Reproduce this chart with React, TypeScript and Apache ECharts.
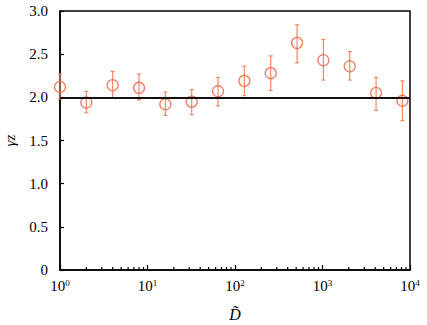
import React, { useEffect, useRef } from "react";
import * as echarts from "echarts";

const xValues = [1, 2, 4, 8, 16, 32, 64, 128, 256, 512, 1024, 2048, 4096, 8192];
const yValues = [2.12, 1.94, 2.14, 2.11, 1.92, 1.95, 2.07, 2.19, 2.28, 2.63, 2.43, 2.36, 2.05, 1.96];
const yUpper = [2.27, 2.07, 2.30, 2.27, 2.06, 2.09, 2.23, 2.36, 2.48, 2.84, 2.67, 2.53, 2.23, 2.19];
const yLower = [1.98, 1.82, 1.99, 1.97, 1.79, 1.80, 1.90, 2.02, 2.08, 2.40, 2.20, 2.20, 1.85, 1.73];
const referenceY = 2;
const minorTickValues = [
  2, 3, 4, 5, 6, 7, 8, 9,
  20, 30, 40, 50, 60, 70, 80, 90,
  200, 300, 400, 500, 600, 700, 800, 900,
  2000, 3000, 4000, 5000, 6000, 7000, 8000, 9000,
];

const FONT = "Times New Roman, serif";
const MARK_COLOR = "#ee5f3f";
const BAR_COLOR = "#f08a66";

export default function App() {
  const ref = useRef<HTMLDivElement>(null);
  useEffect(() => {
    if (!ref.current) return;
    const chart = echarts.init(ref.current, undefined, { renderer: "svg" });
    chart.setOption({
      animation: false,
      backgroundColor: "#fff",
      textStyle: { fontFamily: FONT },
      grid: {
        left: 60,
        right: 17,
        top: 11,
        bottom: 55,
        show: true,
        borderColor: "#000",
        borderWidth: 1.5,
        containLabel: false,
        outerBoundsMode: "none",
      },
      xAxis: {
        type: "log",
        logBase: 10,
        min: 1,
        max: 10000,
        name: "D\u0303",
        nameLocation: "middle",
        nameGap: 36,
        nameTextStyle: { fontFamily: FONT, fontSize: 16, fontStyle: "italic", color: "#000" },
        axisLine: { show: true, lineStyle: { color: "#000", width: 1.5 } },
        axisTick: { show: true, inside: true, length: 5, lineStyle: { color: "#000", width: 1.2 } },
        splitLine: { show: false },
        axisLabel: {
          margin: 8,
          color: "#000",
          fontFamily: FONT,
          formatter: (v: number) => {
            const e = Math.round(Math.log10(v));
            return `{b|10}{s|${e}}`;
          },
          rich: {
            b: { fontFamily: FONT, fontSize: 15, color: "#000" },
            s: { fontFamily: FONT, fontSize: 9, color: "#000", padding: [0, 0, 7, 0] },
          },
        },
      },
      yAxis: {
        type: "value",
        min: 0,
        max: 3,
        interval: 0.5,
        name: "\u03b3z",
        nameLocation: "middle",
        nameRotate: 90,
        nameGap: 43,
        nameTextStyle: { fontFamily: FONT, fontSize: 15, fontStyle: "italic", color: "#000" },
        axisLine: { show: true, lineStyle: { color: "#000", width: 1.5 } },
        axisTick: { show: true, inside: true, length: 4, lineStyle: { color: "#000", width: 1.2 } },
        splitLine: { show: false },
        axisLabel: {
          margin: 12,
          color: "#000",
          fontFamily: FONT,
          fontSize: 15,
          formatter: (v: number) => (v === 0 ? "0" : v.toFixed(1)),
        },
      },
      series: [
        {
          type: "custom",
          name: "minorTicks",
          silent: true,
          clip: false,
          data: minorTickValues.map((v) => [v, 0]),
          renderItem: (params: any, api: any) => {
            const p = api.coord([api.value(0), api.value(1)]);
            return {
              type: "line",
              shape: { x1: p[0], y1: p[1], x2: p[0], y2: p[1] - 3 },
              style: { stroke: "#000", lineWidth: 1.2 },
            };
          },
          z: 5,
        },
        {
          type: "custom",
          name: "errorBars",
          silent: true,
          data: xValues.map((x, i) => [x, yLower[i], yUpper[i]]),
          renderItem: (params: any, api: any) => {
            const x = api.value(0);
            const lo = api.coord([x, api.value(1)]);
            const hi = api.coord([x, api.value(2)]);
            const cap = 2;
            const style = { stroke: BAR_COLOR, lineWidth: 1.2 };
            return {
              type: "group",
              children: [
                { type: "line", shape: { x1: hi[0], y1: hi[1], x2: lo[0], y2: lo[1] }, style },
                { type: "line", shape: { x1: hi[0] - cap, y1: hi[1], x2: hi[0] + cap, y2: hi[1] }, style },
                { type: "line", shape: { x1: lo[0] - cap, y1: lo[1], x2: lo[0] + cap, y2: lo[1] }, style },
              ],
            };
          },
          z: 3,
        },
        {
          type: "scatter",
          name: "gamma",
          data: xValues.map((x, i) => [x, yValues[i]]),
          symbol: "circle",
          symbolSize: 11,
          itemStyle: { color: "rgba(255,255,255,0)", borderColor: MARK_COLOR, borderWidth: 1.3 },
          markLine: {
            silent: true,
            symbol: ["none", "none"],
            label: { show: false },
            lineStyle: { color: "#111", width: 1.8, type: "solid" },
            data: [{ yAxis: referenceY }],
          },
          z: 4,
        },
      ],
    });
    return () => chart.dispose();
  }, []);
  return <div ref={ref} style={{ width: 427, height: 325, position: "absolute", left: 0, top: 0 }} />;
}
